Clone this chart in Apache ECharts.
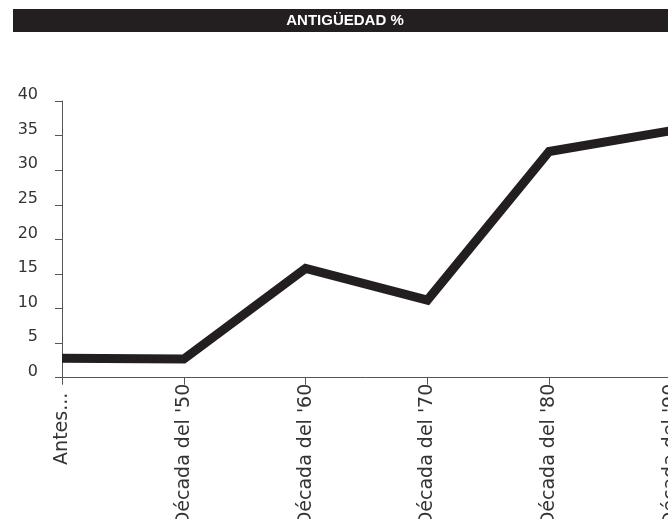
<!DOCTYPE html>
<html>
<head>
<meta charset="utf-8">
<script src="https://cdn.jsdelivr.net/npm/echarts@6/dist/echarts.min.js"></script>
<style>html,body{margin:0;padding:0;background:#fff;}#c{width:668px;height:519px;}</style>
</head>
<body>
<div id="c"></div>
<script>
const titleText = 'ANTIGÜEDAD %';
const categories = ['Antes...', "Década del '50", "Década del '60", "Década del '70", "Década del '80", "Década del '90"];
const antiguedad = [2.8, 2.7, 15.8, 11.2, 32.7, 35.7];
const yTicks = { min: 0, max: 40, interval: 5 };

const xData = categories.map(function (c, i) {
  return i === 0 ? { value: c, textStyle: { padding: [0, 9, 0, 0] } } : c;
});

const chart = echarts.init(document.getElementById('c'), null, { renderer: 'canvas' });
chart.setOption({
  animation: false,
  backgroundColor: '#ffffff',
  graphic: [
    { type: 'rect', shape: { x: 13, y: 9, width: 660, height: 23 }, style: { fill: '#231f20' }, silent: true },
    { type: 'text', x: 345, y: 21, style: { text: titleText, fill: '#ffffff', font: 'bold 15px "Liberation Sans", Arial, sans-serif', align: 'center', verticalAlign: 'middle' }, silent: true }
  ],
  grid: { left: 62, right: -3, top: 101, height: 276.7, containLabel: false, outerBoundsMode: 'none' },
  xAxis: {
    type: 'category',
    data: xData,
    boundaryGap: false,
    axisLine: { show: true, lineStyle: { color: '#555', width: 1 } },
    axisTick: { show: true, length: 7, inside: false, lineStyle: { color: '#555' } },
    axisLabel: { rotate: 90, interval: 0, margin: 6, fontSize: 19, fontFamily: '"DejaVu Sans", sans-serif', color: '#333' },
    splitLine: { show: false }
  },
  yAxis: {
    type: 'value',
    min: yTicks.min, max: yTicks.max, interval: yTicks.interval,
    axisLine: { show: true, lineStyle: { color: '#555', width: 1 } },
    axisTick: { show: true, length: 7, inside: false, lineStyle: { color: '#555' } },
    axisLabel: { margin: 24, fontSize: 16, fontFamily: '"DejaVu Sans", sans-serif', color: '#333', verticalAlign: 'bottom', lineHeight: 12 },
    splitLine: { show: false }
  },
  series: [{
    type: 'line',
    data: antiguedad,
    symbol: 'none',
    lineStyle: { color: '#231f20', width: 9, join: 'miter' },
    itemStyle: { color: '#231f20' }
  }]
});
</script>
</body>
</html>
